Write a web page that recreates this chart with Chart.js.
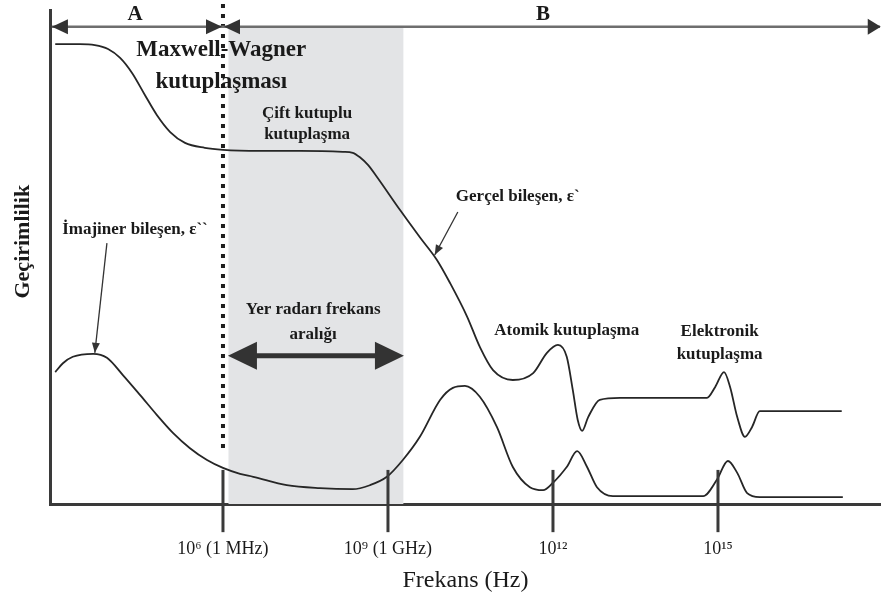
<!DOCTYPE html>
<html>
<head>
<meta charset="utf-8">
<script src="https://cdn.jsdelivr.net/npm/chart.js@4.4.0/dist/chart.umd.min.js"></script>
<style>
  html, body { margin: 0; padding: 0; background: #fff; }
  #wrap { width: 881px; height: 601px; }
</style>
</head>
<body>
<div id="wrap"><canvas id="chart" width="881" height="601"></canvas></div>
<script>
// ————— Data: x = log10(frequency / Hz), y = permittivity (relative units) —————
const realLogF = [2.95, 3.4, 3.67, 3.91, 4.13, 4.35, 4.58, 4.8, 5.04, 5.31, 5.67, 6.0, 6.67, 7.4, 8.18, 8.36,
  8.49, 8.64, 8.8, 9.22, 9.58, 9.89, 10.13, 10.44, 10.67, 10.91, 11.27, 11.64, 11.89, 12.09, 12.25, 12.36,
  12.45, 12.53, 12.64, 12.85, 13.22, 14.8, 14.95, 15.11, 15.22, 15.35, 15.49, 15.62, 15.76, 16.04, 17.25];
const realEps = [93.1, 93.1, 92.9, 92.1, 90.3, 87.2, 82.8, 78.7, 75.3, 73.1, 72.1, 71.7, 71.5, 71.5, 71.3, 71.1,
  70.2, 68.6, 66.2, 59.5, 54.0, 49.4, 44.7, 37.9, 31.8, 27.1, 25.1, 26.5, 30.6, 32.2, 29.8, 23.1,
  17.0, 14.8, 17.6, 21.1, 21.5, 21.5, 23.7, 26.7, 23.7, 17.6, 13.6, 15.6, 18.8, 18.8, 18.8];

const imagLogF = [2.95, 3.09, 3.27, 3.64, 3.89, 4.18, 4.49, 4.8, 5.09, 5.4, 5.71, 6.0, 6.31, 6.55, 7.16, 7.76,
  8.36, 8.67, 8.98, 9.27, 9.58, 9.95, 10.18, 10.4, 10.67, 10.98, 11.27, 11.58, 11.82, 12.0, 12.25, 12.44,
  12.62, 12.8, 13.09, 14.73, 14.98, 15.18, 15.35, 15.53, 15.76, 17.27];
const imagEps = [26.7, 28.5, 29.8, 30.4, 29.6, 26.1, 22.1, 18.0, 14.4, 11.3, 8.9, 7.3, 6.1, 5.5, 3.8, 3.2,
  3.0, 3.8, 5.5, 8.9, 13.6, 21.1, 23.5, 23.9, 21.7, 15.6, 7.5, 3.4, 2.8, 4.3, 7.5, 10.7,
  7.5, 3.4, 1.6, 1.6, 4.9, 8.7, 6.3, 2.2, 1.4, 1.4];

const tickExps = [6, 9, 12, 15];
const tickLabels = ['10⁶ (1 MHz)', '10⁹ (1 GHz)', '10¹²', '10¹⁵'];

// ————— Styling —————
const FONT = '"Liberation Serif", "Times New Roman", serif';
const INK = '#262626';
const AXIS = '#3a3a3a';

function arrowHead(ctx, tx, ty, fx, fy, len, half) {
  // tip at (tx,ty), pointing away from (fx,fy)
  const a = Math.atan2(ty - fy, tx - fx);
  ctx.beginPath();
  ctx.moveTo(tx, ty);
  ctx.lineTo(tx - len * Math.cos(a) + half * Math.sin(a), ty - len * Math.sin(a) - half * Math.cos(a));
  ctx.lineTo(tx - len * Math.cos(a) - half * Math.sin(a), ty - len * Math.sin(a) + half * Math.cos(a));
  ctx.closePath();
  ctx.fill();
}

const decorations = {
  id: 'decorations',
  beforeDatasetsDraw(chart) {
    const { ctx, scales: { x, y } } = chart;
    ctx.save();
    // ground radar band
    const x0 = x.getPixelForValue(6.1), x1 = x.getPixelForValue(9.28);
    const yTop = y.getPixelForValue(96.6), yBot = y.getPixelForValue(0);
    ctx.fillStyle = '#e3e4e6';
    ctx.fillRect(x0, yTop, x1 - x0, yBot - yTop);
    ctx.restore();
  },
  afterDraw(chart) {
    const { ctx, scales: { x, y } } = chart;
    const X = v => x.getPixelForValue(v);
    const Y = v => y.getPixelForValue(v);
    ctx.save();

    // dotted boundary at 1 MHz
    ctx.strokeStyle = '#1e1e1e';
    ctx.lineWidth = 4;
    ctx.setLineDash([4, 6]);
    ctx.beginPath();
    ctx.moveTo(X(6), Y(101.2));
    ctx.lineTo(X(6), Y(10.5));
    ctx.stroke();
    ctx.setLineDash([]);

    // top region line A | B
    const yl = Y(96.6);
    ctx.strokeStyle = '#6e6e6e';
    ctx.lineWidth = 2.5;
    ctx.beginPath();
    ctx.moveTo(X(2.89), yl);
    ctx.lineTo(X(17.945), yl);
    ctx.stroke();
    ctx.fillStyle = '#333';
    arrowHead(ctx, X(2.89), yl, X(4), yl, 16, 7.5);
    arrowHead(ctx, X(6) - 1, yl, X(5), yl, 16, 7.5);
    arrowHead(ctx, X(6) + 1, yl, X(7), yl, 16, 7.5);
    arrowHead(ctx, X(17.96), yl, X(17), yl, 13, 8);

    // tick marks crossing the x axis
    ctx.strokeStyle = AXIS;
    ctx.lineWidth = 3;
    tickExps.forEach(e => {
      ctx.beginPath();
      ctx.moveTo(X(e), Y(6.9));
      ctx.lineTo(X(e), Y(-5.7));
      ctx.stroke();
    });

    // GPR double arrow
    const ya = Y(30.0);
    ctx.strokeStyle = '#333';
    ctx.lineWidth = 5;
    ctx.beginPath();
    ctx.moveTo(X(6.4), ya);
    ctx.lineTo(X(8.95), ya);
    ctx.stroke();
    ctx.fillStyle = '#333';
    arrowHead(ctx, X(6.09), ya, X(7), ya, 29, 14);
    arrowHead(ctx, X(9.29), ya, X(8), ya, 29, 14);

    // thin pointer arrows
    ctx.lineWidth = 1.3;
    ctx.strokeStyle = '#333';
    [[10.27, 59.1, 9.85, 50.4], [3.89, 52.8, 3.67, 30.6]].forEach(([a, b, c, d]) => {
      ctx.beginPath();
      ctx.moveTo(X(a), Y(b));
      ctx.lineTo(X(c), Y(d));
      ctx.stroke();
      arrowHead(ctx, X(c), Y(d), X(a), Y(b), 10, 4);
    });

    // labels
    const text = (s, xv, yv, size, weight) => {
      ctx.font = `${weight} ${size}px ${FONT}`;
      ctx.fillStyle = '#1a1a1a';
      ctx.textAlign = 'center';
      ctx.textBaseline = 'middle';
      ctx.fillText(s, X(xv), Y(yv));
    };
    text('A', 4.4, 99.0, 21, 'bold');
    text('B', 11.82, 99.0, 21, 'bold');
    text('Maxwell-Wagner', 5.97, 91.9, 23, 'bold');
    text('kutuplaşması', 5.97, 85.4, 23, 'bold');
    text('Çift kutuplu', 7.53, 79.1, 17, 'bold');
    text('kutuplaşma', 7.53, 74.7, 17, 'bold');
    text('Gerçel bileşen, ε`', 11.36, 62.3, 17, 'bold');
    text('İmajiner bileşen, ε``', 4.4, 55.5, 17, 'bold');
    text('Yer radarı frekans', 7.64, 39.3, 17, 'bold');
    text('aralığı', 7.64, 34.2, 17, 'bold');
    text('Atomik kutuplaşma', 12.25, 35.2, 17, 'bold');
    text('Elektronik', 15.03, 34.8, 17, 'bold');
    text('kutuplaşma', 15.03, 30.2, 17, 'bold');

    // y axis title
    ctx.save();
    ctx.translate(23, Y(53.1));
    ctx.rotate(-Math.PI / 2);
    ctx.font = `bold 22px ${FONT}`;
    ctx.fillText('Geçirimlilik', 0, 0);
    ctx.restore();

    ctx.restore();
  }
};

const lineStyle = {
  borderColor: INK,
  borderWidth: 1.8,
  pointRadius: 0,
  fill: false,
  cubicInterpolationMode: 'monotone'
};

new Chart(document.getElementById('chart'), {
  type: 'line',
  data: {
    datasets: [
      { label: 'Gerçel bileşen', data: realLogF.map((f, i) => ({ x: f, y: realEps[i] })), ...lineStyle },
      { label: 'İmajiner bileşen', data: imagLogF.map((f, i) => ({ x: f, y: imagEps[i] })), ...lineStyle }
    ]
  },
  options: {
    responsive: false,
    animation: false,
    layout: { padding: { top: 10, right: 0, left: 0, bottom: 0 } },
    plugins: { legend: { display: false }, tooltip: { enabled: false } },
    scales: {
      x: {
        type: 'linear',
        min: 2.855,
        max: 17.964,
        afterFit: s => { s.height = 97; },
        afterBuildTicks: s => { s.ticks = tickExps.map(v => ({ value: v })); },
        ticks: {
          autoSkip: false,
          maxRotation: 0,
          padding: 5,
          color: '#1a1a1a',
          font: { family: FONT, size: 18 },
          callback: v => tickLabels[tickExps.indexOf(v)]
        },
        grid: { display: true, drawOnChartArea: false, drawTicks: true, tickLength: 29, color: 'rgba(0,0,0,0)' },
        border: { display: true, color: AXIS, width: 3 },
        title: {
          display: true,
          text: 'Frekans (Hz)',
          color: '#1a1a1a',
          font: { family: FONT, size: 24 },
          padding: { top: 0, bottom: 6 }
        }
      },
      y: {
        min: 0,
        max: 100,
        afterFit: s => { s.width = 50; },
        ticks: { display: false },
        grid: { display: false },
        border: { display: true, color: AXIS, width: 3 },
        title: { display: false }
      }
    }
  },
  plugins: [decorations]
});
</script>
</body>
</html>
